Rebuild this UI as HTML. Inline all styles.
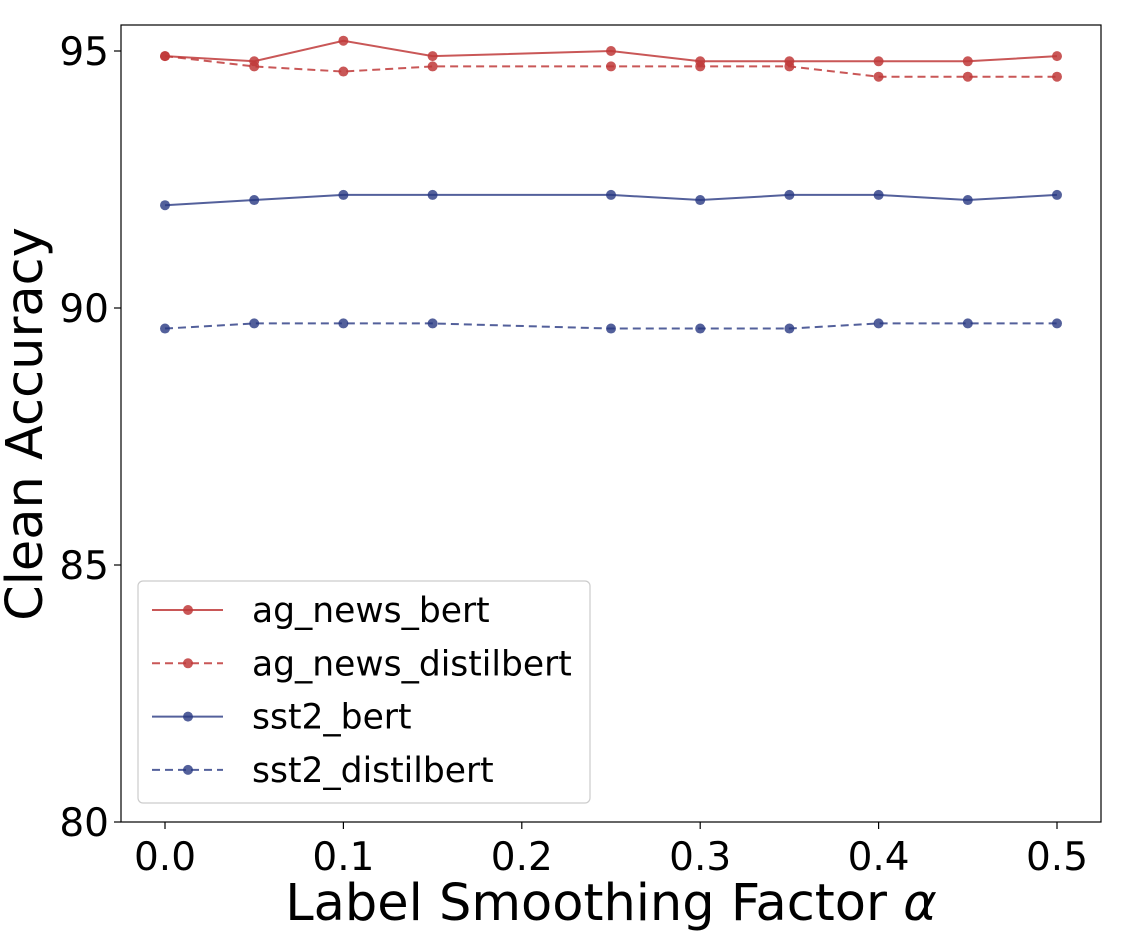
<!DOCTYPE html>
<html><head><meta charset="utf-8"><style>
body{margin:0;background:#fff;}
svg text{font-family:"DejaVu Sans","Liberation Sans",sans-serif;fill:#000;}
</style></head><body>
<svg id="chart" width="1140" height="934" xmlns="http://www.w3.org/2000/svg"></svg>
<script>
const xValues=[0,0.05,0.1,0.15,0.25,0.3,0.35,0.4,0.45,0.5];
const agNewsBert=[94.9,94.8,95.2,94.9,95.0,94.8,94.8,94.8,94.8,94.9];
const agNewsDistilbert=[94.9,94.7,94.6,94.7,94.7,94.7,94.7,94.5,94.5,94.5];
const sst2Bert=[92.0,92.1,92.2,92.2,92.2,92.1,92.2,92.2,92.1,92.2];
const sst2Distilbert=[89.6,89.7,89.7,89.7,89.6,89.6,89.6,89.7,89.7,89.7];
const xTicks=[0,0.1,0.2,0.3,0.4,0.5];
const xTickLabels=["0.0","0.1","0.2","0.3","0.4","0.5"];
const yTicks=[80,85,90,95];
const seriesNames=["ag_news_bert","ag_news_distilbert","sst2_bert","sst2_distilbert"];

const NS="http://www.w3.org/2000/svg";
const svg=document.getElementById('chart');
const L=121,R=1101,T=25,B=822;
const X=v=>165+(v-0)*(1057-165)/0.5;
const Y=v=>822-(v-80)*(822-51)/15;
function mk(tag,attrs,parent){const e=document.createElementNS(NS,tag);for(const k in attrs)e.setAttribute(k,attrs[k]);(parent||svg).appendChild(e);return e;}
const RED='rgba(192,57,57,0.85)',BLUE='rgba(40,56,130,0.8)';
const series=[[agNewsBert,RED,null],[agNewsDistilbert,RED,'8,5'],[sst2Bert,BLUE,null],[sst2Distilbert,BLUE,'8,5']];
series.forEach((s,i)=>{
  const g=mk('g',{});
  
  
  const pts=xValues.map((x,j)=>X(x)+','+Y(s[0][j])).join(' ');
  const pl=mk('polyline',{points:pts,fill:'none',stroke:s[1],'stroke-width':2},g);
  if(s[2])pl.setAttribute('stroke-dasharray',s[2]);
  
  
  xValues.forEach((x,j)=>{
    const c=mk('circle',{cx:X(x),cy:Y(s[0][j]),r:5,fill:s[1]},g);
    
    
  });
});
const frame=mk('rect',{x:L,y:T,width:R-L,height:B-T,fill:'none',stroke:'#000','stroke-width':1.2});


xTicks.forEach((v,i)=>{
  mk('line',{x1:X(v),x2:X(v),y1:B,y2:B+7,stroke:'#000','stroke-width':1.2});
  const t=mk('text',{x:X(v),y:B+48,'font-size':39,'text-anchor':'middle'});
  t.textContent=xTickLabels[i];
  
  
});
yTicks.forEach(v=>{
  mk('line',{x1:L-7,x2:L,y1:Y(v),y2:Y(v),stroke:'#000','stroke-width':1.2});
  const t=mk('text',{x:L-12,y:Y(v)+14,'font-size':39,'text-anchor':'end'});
  t.textContent=v;
  
  
});
const xt=mk('text',{x:611,y:920,'font-size':51,'text-anchor':'middle'});
xt.innerHTML='Label Smoothing Factor <tspan font-style="italic">α</tspan>';


const yt=mk('text',{x:0,y:0,'font-size':51,'text-anchor':'middle',transform:'translate(42,424) rotate(-90)'});
yt.textContent='Clean Accuracy';


const lg=mk('g',{});


mk('rect',{x:138,y:581,width:452,height:222,rx:5,fill:'rgba(255,255,255,0.8)',stroke:'#ccc','stroke-width':1.2},lg);
series.forEach((s,i)=>{
  const y=610+i*53.3;
  const e=mk('g',{},lg);
  
  
  const l=mk('line',{x1:152,x2:223,y1:y,y2:y,stroke:s[1],'stroke-width':2},e);
  if(s[2])l.setAttribute('stroke-dasharray',s[2]);
  mk('circle',{cx:188,cy:y,r:5,fill:s[1]},e);
  const t=mk('text',{x:252,y:y+12,'font-size':34.5},e);
  t.textContent=seriesNames[i];
});
</script>
</body></html>
